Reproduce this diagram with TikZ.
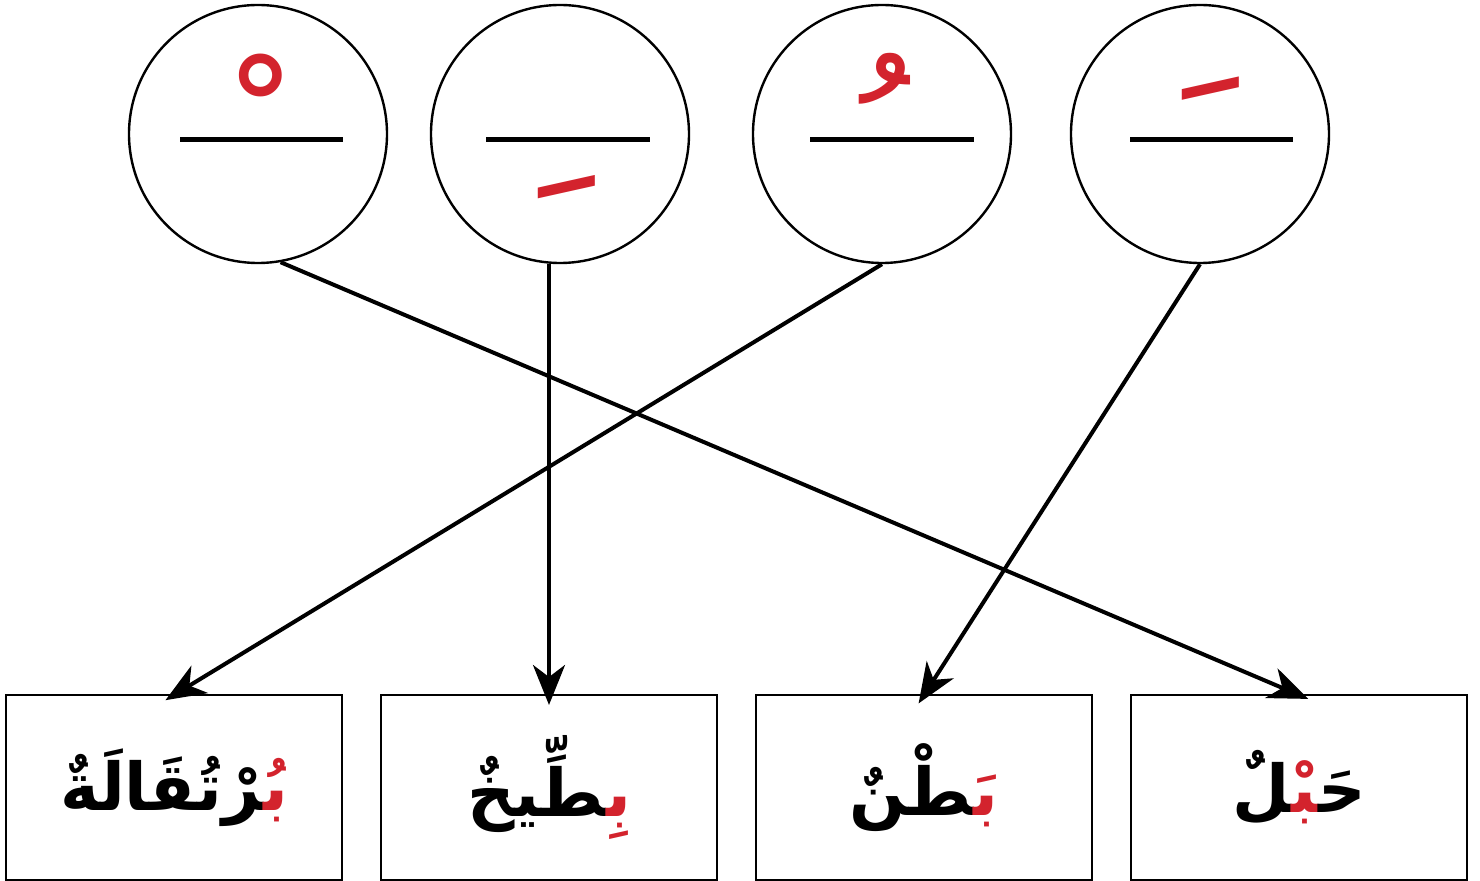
\documentclass[tikz,border=0pt]{standalone}
\usepackage{fontspec}
\usepackage{xcolor}
\usepackage{tikz}
\usetikzlibrary{arrows.meta,positioning,calc}
\newfontfamily\arabicfont[Script=Arabic]{DejaVu Sans}
\definecolor{harakared}{RGB}{211,35,45}
\newcommand\zj{^^^^200d}
% segments are set in visual order (left to right)
\newcommand\redba[1]{{\color{harakared}#1}}

\begin{document}
\begin{tikzpicture}[x=0.5pt,y=-0.5pt,
vowel/.style={draw,circle,line width=1.2pt,minimum size=129pt,inner sep=0pt},
bar/.style={line width=2.5pt},
haraka/.style={text=harakared,inner sep=0pt,font=\arabicfont\fontsize{#1}{#1}\selectfont},
word/.style={draw,line width=1.2pt,outer sep=0pt,minimum width=168pt,minimum height=92.5pt,inner sep=0pt,font=\arabicfont\bfseries\fontsize{33}{40}\selectfont},
arr/.style={-{Stealth[length=20pt,width=16pt,inset=6pt]},line width=2pt,shorten >=-5pt}
]
\useasboundingbox (0,0) rectangle (1480,881);
% vowel circles
\node[vowel] (sukun) at (258,134) {};
\node[vowel] (kasra) at (560,134) {};
\node[vowel] (damma) at (882,134) {};
\node[vowel] (fatha) at (1200,134) {};
\draw[bar] (180,140) -- (343,140);
\draw[bar] (486,140) -- (650,140);
\draw[bar] (810,140) -- (974,140);
\draw[bar] (1130,140) -- (1293,140);
\node[haraka=80] (sukunmark) at (261,124) {^^^^fe7e};
\node[haraka=100] (kasramark) at (567,185) {^^^^fe7a};
\node[haraka=90] (dammamark) at (885,132) {^^^^fe78};
\node[haraka=100] (fathamark) at (1211,148) {^^^^fe76};
% word boxes
\node[word] (burtuqala) at (174,787.5) {\zj رْتُقَالَةٌ\redba{بُ\zj}};
\node[word,right=19.5pt of burtuqala] (bittikh) {\zj طِّيخٌ\redba{بِ\zj}};
\node[word,right=19.5pt of bittikh] (batn) {\zj طْنٌ\redba{بَ\zj}};
\node[word,right=19.5pt of batn] (habl) {\zj لٌ\redba{\zj بْ\zj}حَ\zj};
% arrows
\draw[arr] (sukun.-80) -- (habl.north);
\draw[arr] (kasra.south -| bittikh.north) -- (bittikh.north);
\draw[arr] (damma.south) -- (burtuqala.north);
\draw[arr] (fatha.south) -- (batn.north);
\end{tikzpicture}
\end{document}
